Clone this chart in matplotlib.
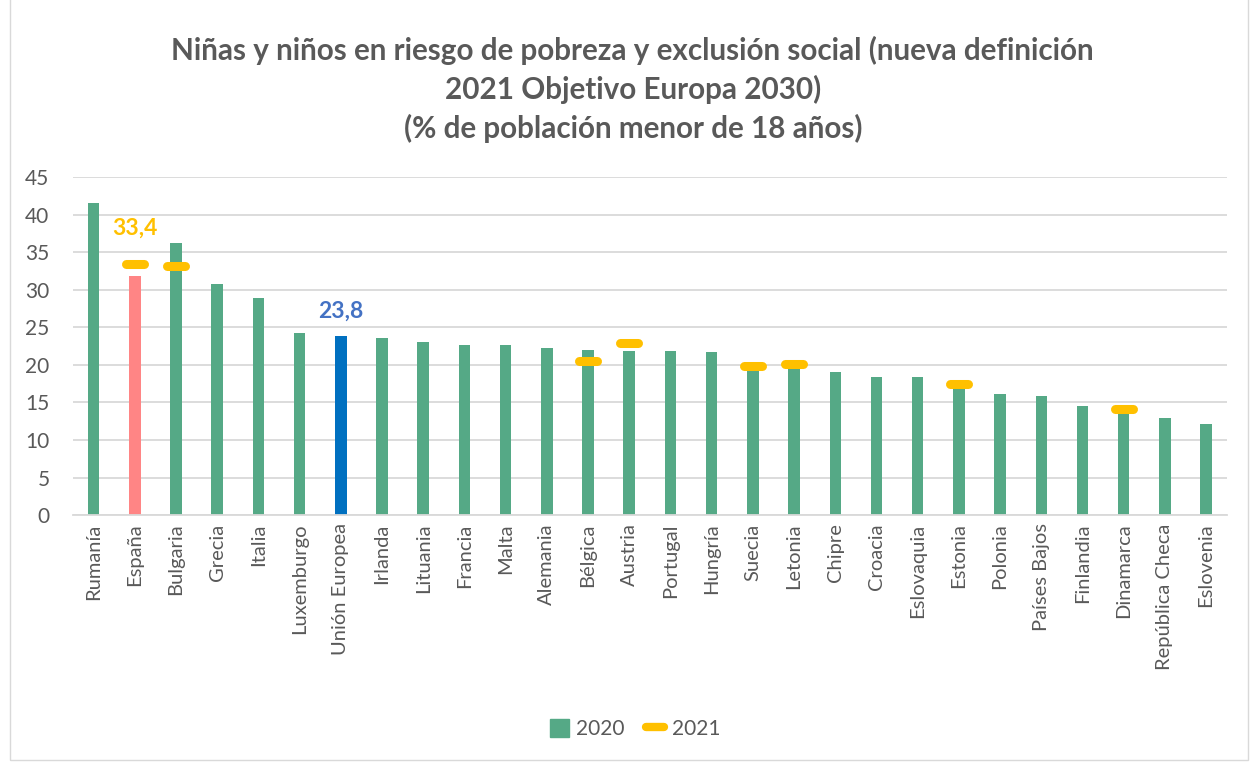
import numpy as np
import matplotlib.pyplot as plt
from matplotlib.lines import Line2D
from matplotlib.patches import Patch, Rectangle

# Datos
paises = ["Rumanía", "España", "Bulgaria", "Grecia", "Italia", "Luxemburgo",
          "Unión Europea", "Irlanda", "Lituania", "Francia", "Malta", "Alemania",
          "Bélgica", "Austria", "Portugal", "Hungría", "Suecia", "Letonia",
          "Chipre", "Croacia", "Eslovaquia", "Estonia", "Polonia", "Países Bajos",
          "Finlandia", "Dinamarca", "República Checa", "Eslovenia"]
valores_2020 = [41.5, 31.8, 36.2, 30.8, 28.9, 24.2, 23.8, 23.6, 23.1, 22.6, 22.6, 22.3,
                22.0, 21.9, 21.9, 21.7, 19.5, 19.8, 19.0, 18.4, 18.4, 17.2, 16.1, 15.8,
                14.5, 13.4, 12.9, 12.1]
# 2021 solo para algunos países (None = sin dato)
valores_2021 = [None, 33.4, 33.1, None, None, None, None, None, None, None, None, None,
                20.5, 22.9, None, None, 19.8, 20.1, None, None, None, 17.5, None, None,
                None, 14.1, None, None]

verde = "#55A986"
rosa = "#FF8585"
azul = "#0070C0"
oro = "#FFC000"
gris = "#595959"

plt.rcParams["font.family"] = ["Lato", "DejaVu Sans"]

fig = plt.figure(figsize=(12.53, 7.62), dpi=100)
ax = fig.add_axes([0.0583, 0.324, 0.9207, 0.4437])

x = np.arange(len(paises))
colores = [verde] * len(paises)
colores[1] = rosa
colores[6] = azul
ax.bar(x, valores_2020, width=0.28, color=colores, zorder=2)

# Marcas 2021
xs = [i for i, v in enumerate(valores_2021) if v is not None]
ys = [v for v in valores_2021 if v is not None]
lc = ax.hlines(ys, np.array(xs) - 0.22, np.array(xs) + 0.22, colors=oro, linewidth=6.5, zorder=3)
lc.set_capstyle("round")

# Etiquetas
ax.text(1, 38.2, "33,4", color=oro, fontsize=16.5, fontweight="bold", ha="center", va="center")
ax.text(6, 27.2, "23,8", color="#4472C4", fontsize=16.5, fontweight="bold", ha="center", va="center")

ax.set_xlim(-0.5, len(paises) - 0.5)
ax.set_ylim(0, 45)
ax.set_yticks(range(0, 46, 5))
ax.set_xticks(x)
ax.set_xticklabels(paises, rotation=90, fontsize=14.5, color=gris)
ax.tick_params(axis="y", labelsize=15, labelcolor=gris, length=0, pad=17)
ax.tick_params(axis="x", length=0, pad=6)
ax.grid(axis="y", color="#D9D9D9", linewidth=1.3, zorder=0)
for s in ["top", "right", "left"]:
    ax.spines[s].set_visible(False)
ax.spines["bottom"].set_color("#D9D9D9")
ax.spines["bottom"].set_linewidth(1.3)

for yy, linea in [(0.934, "Niñas y niños en riesgo de pobreza y exclusión social (nueva definición"),
                  (0.882, "2021 Objetivo Europa 2030)"),
                  (0.832, "(% de población menor de 18 años)")]:
    fig.text(0.505, yy, linea, ha="center", va="center", fontsize=21.3,
             fontweight="bold", color=gris)

handles = [Patch(color=verde, label="2020"),
           Line2D([0], [0], color=oro, linewidth=6, solid_capstyle="round", label="2021")]
fig.legend(handles=handles, loc="center", bbox_to_anchor=(0.507, 0.043), ncol=2,
           frameon=False, fontsize=15, labelcolor=gris, handlelength=0.9,
           handleheight=0.9, columnspacing=1.0, handletextpad=0.35)

fig.patches.append(Rectangle((0.008, 0.003), 0.988, 1.2, transform=fig.transFigure,
                             fill=False, edgecolor="#D9D9D9", linewidth=1))

fig.savefig("out.png", dpi=100)
